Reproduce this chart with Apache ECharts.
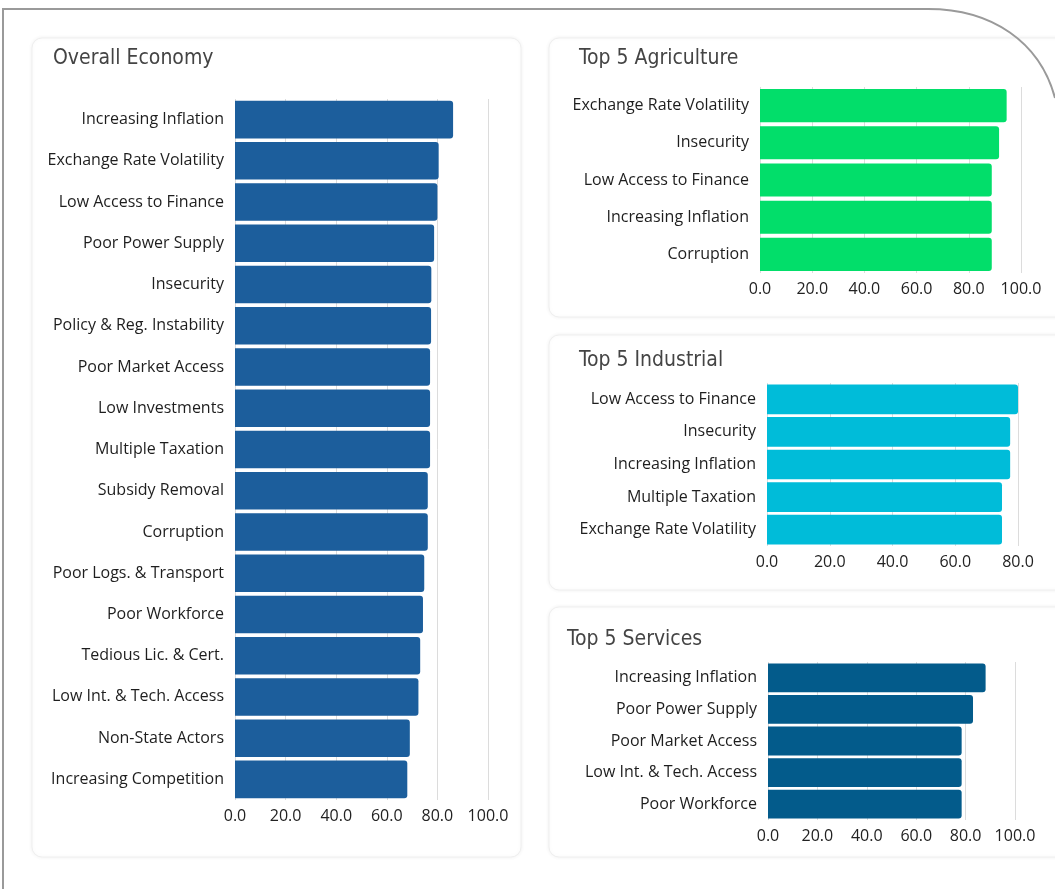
<!DOCTYPE html>
<html>
<head>
<meta charset="utf-8">
<script src="https://cdn.jsdelivr.net/npm/echarts@6/dist/echarts.min.js"></script>
<style>
html,body{margin:0;padding:0;background:#fff;}
#chart{width:1055px;height:889px;}
</style>
</head>
<body>
<div id="chart"></div>
<script>
// ---- Data ----
const overallCategories = ["Increasing Inflation","Exchange Rate Volatility","Low Access to Finance","Poor Power Supply","Insecurity","Policy & Reg. Instability","Poor Market Access","Low Investments","Multiple Taxation","Subsidy Removal","Corruption","Poor Logs. & Transport","Poor Workforce","Tedious Lic. & Cert.","Low Int. & Tech. Access","Non-State Actors","Increasing Competition"];
const overallValues = [86.2,80.5,80.0,78.7,77.6,77.5,77.1,77.1,77.1,76.2,76.2,74.8,74.3,73.2,72.5,69.1,68.1];

const agriCategories = ["Exchange Rate Volatility","Insecurity","Low Access to Finance","Increasing Inflation","Corruption"];
const agriValues = [94.5,91.6,88.8,88.8,88.8];

const indCategories = ["Low Access to Finance","Insecurity","Increasing Inflation","Multiple Taxation","Exchange Rate Volatility"];
const indValues = [80.0,77.5,77.5,74.9,74.9];

const servCategories = ["Increasing Inflation","Poor Power Supply","Poor Market Access","Low Int. & Tech. Access","Poor Workforce"];
const servValues = [88.1,83.0,78.4,78.4,78.4];

const xTicks100 = {min:0,max:100,interval:20};
const xTicks80 = {min:0,max:80,interval:20};

// ---- Chart ----
const chart = echarts.init(document.getElementById('chart'), null, {renderer:'canvas'});
const labelFont = "'Open Sans', 'Noto Sans', sans-serif";
const titleFont = "'Liberation Sans Narrow', 'DejaVu Sans Condensed', sans-serif";

function xAxis(gi, ticks){
  return {
    type:'value', gridIndex:gi, min:ticks.min, max:ticks.max, interval:ticks.interval,
    axisLine:{show:false}, axisTick:{show:false},
    splitLine:{show:true, lineStyle:{color:'#dcdcdc', width:1}},
    axisLabel:{color:'#222', fontSize:16, fontFamily:labelFont, margin:8,
      formatter:v=>v.toFixed(1)}
  };
}
function yAxis(gi, cats){
  return {
    type:'category', gridIndex:gi, data:cats, inverse:true,
    axisLine:{show:false}, axisTick:{show:false},
    axisLabel:{color:'#1e1e1e', fontSize:16, fontFamily:labelFont, margin:11}
  };
}
function series(gi, vals, color, gap){
  return {
    type:'bar', xAxisIndex:gi, yAxisIndex:gi, data:vals,
    barCategoryGap:gap,
    itemStyle:{color:color, borderRadius:[0,3,3,0]}
  };
}
function titleAt(text, left, top){
  return {text:text, left:left, top:top, padding:0,
    textStyle:{fontFamily:titleFont, fontSize:21, fontWeight:'normal', color:'#444', lineHeight:24}};
}

const cardStyle = {fill:'#fff', stroke:'#efefef', lineWidth:1, shadowBlur:4, shadowColor:'rgba(0,0,0,0.06)'};
const frameStyle = {fill:null, stroke:'#9a9a9a', lineWidth:2};

const option = {
  backgroundColor:'#fff',
  animation:false,
  graphic:[
    {type:'rect', z:0, silent:true, shape:{x:32,y:38,width:489,height:819,r:10}, style:cardStyle},
    {type:'rect', z:0, silent:true, shape:{x:549,y:38,width:520,height:279,r:10}, style:cardStyle},
    {type:'rect', z:0, silent:true, shape:{x:549,y:335,width:520,height:255,r:10}, style:cardStyle},
    {type:'rect', z:0, silent:true, shape:{x:549,y:607,width:520,height:250,r:10}, style:cardStyle},
    {type:'polyline', z:100, silent:true, shape:{points:[[3,889],[3,9],[928,9]]}, style:frameStyle},
    {type:'bezierCurve', z:100, silent:true, shape:{x1:928,y1:9,cpx1:992,cpy1:9,cpx2:1040,cpy2:42,x2:1055,y2:98}, style:frameStyle}
  ],
  title:[
    titleAt('Overall Economy', 53, 47),
    titleAt('Top 5 Agriculture', 579, 47),
    titleAt('Top 5 Industrial', 579, 349),
    titleAt('Top 5 Services', 567, 628)
  ],
  grid:[
    {left:235, right:567, top:99, bottom:89},
    {left:760, right:34, top:87, bottom:616},
    {left:767, right:37, top:383, bottom:343},
    {left:768, right:40, top:662, bottom:69}
  ],
  xAxis:[xAxis(0,xTicks100), xAxis(1,xTicks100), xAxis(2,xTicks80), xAxis(3,xTicks100)],
  yAxis:[yAxis(0,overallCategories), yAxis(1,agriCategories), yAxis(2,indCategories), yAxis(3,servCategories)],
  series:[
    series(0, overallValues, '#1c5e9c', '9%'),
    series(1, agriValues, '#02de6a', '11%'),
    series(2, indValues, '#00bcd9', '9%'),
    series(3, servValues, '#035b8b', '9%')
  ]
};
chart.setOption(option);
</script>
</body>
</html>
